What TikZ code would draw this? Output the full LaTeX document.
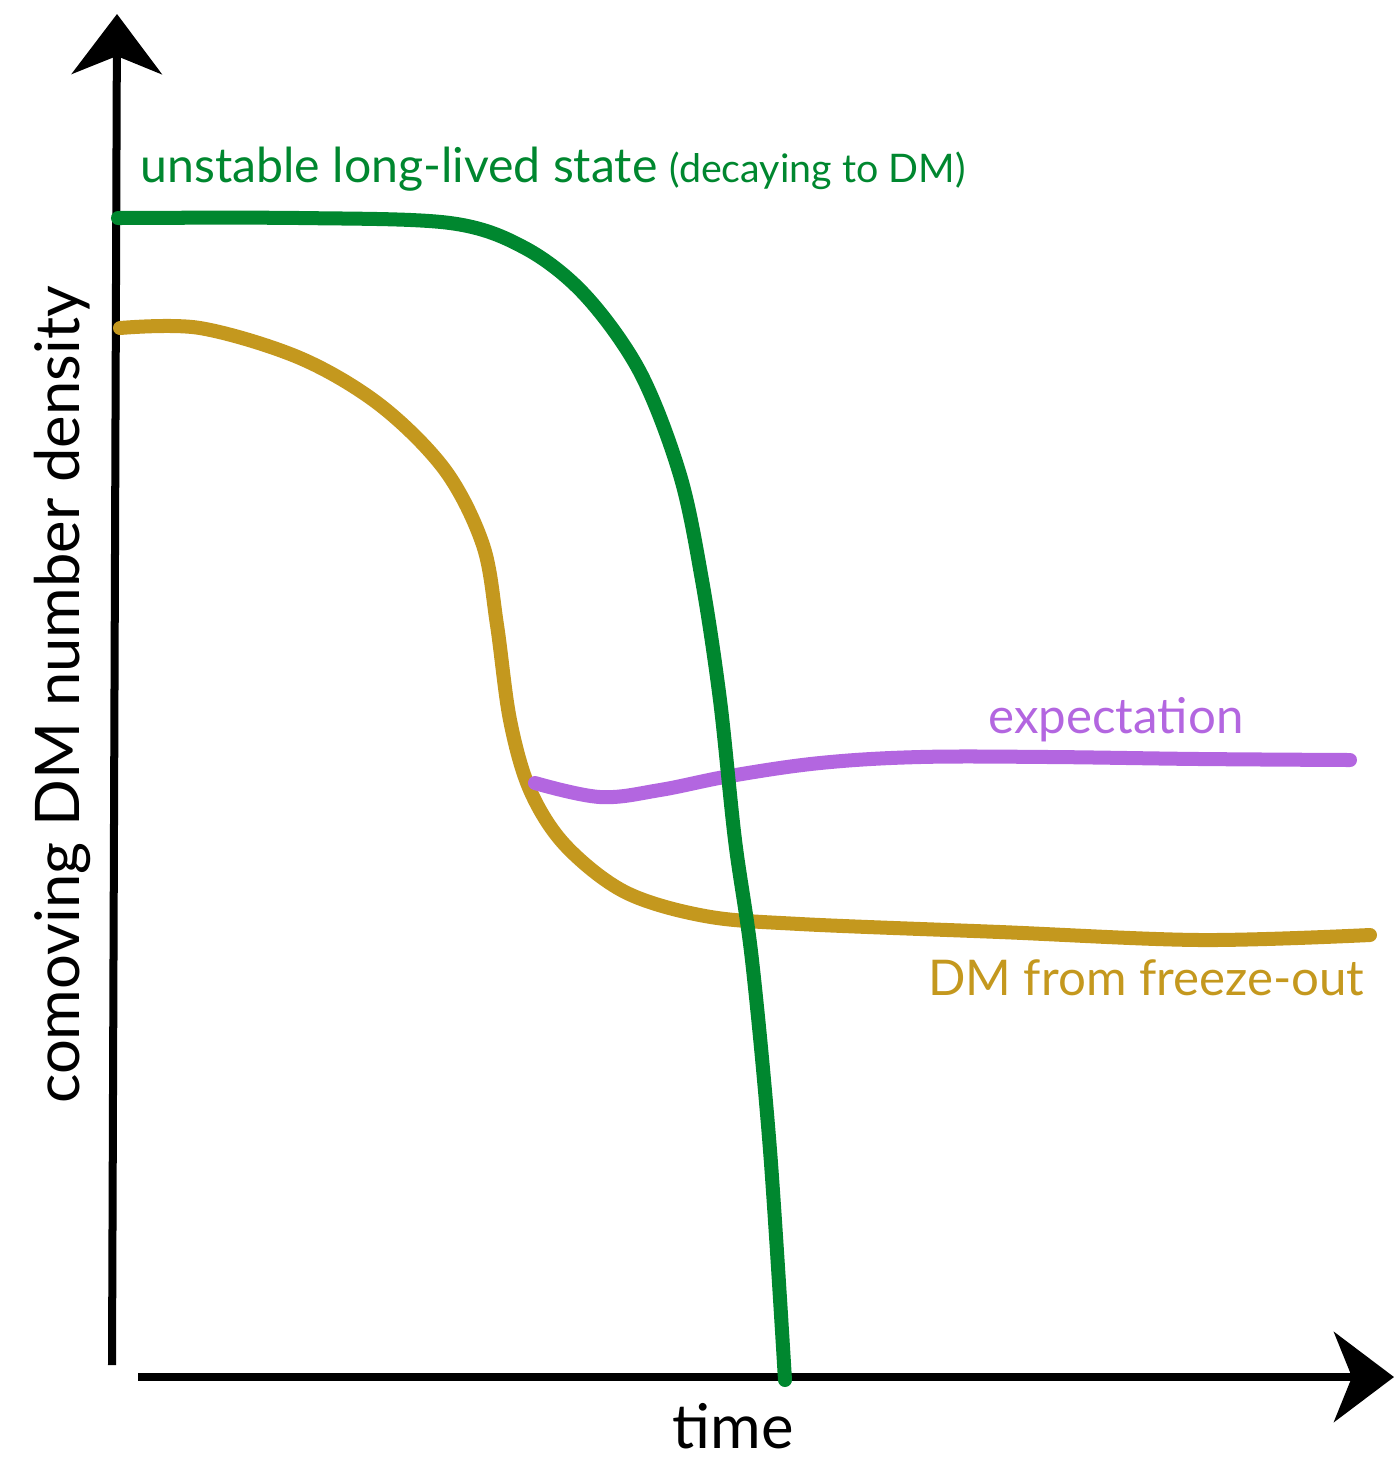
\documentclass[tikz,border=0pt]{standalone}
\usepackage{fontspec}
\setmainfont{Lato}
\usetikzlibrary{arrows.meta}
\definecolor{stategreen}{HTML}{00872F}
\definecolor{dmgold}{HTML}{C4981E}
\definecolor{expviolet}{HTML}{B366E0}
\tikzstyle{axis} = [line width=0.08cm, -{Stealth[length=0.6cm, width=0.9cm, inset=0.18cm]}]
\tikzstyle{curve} = [line width=0.14cm, line cap=round, line join=round]
\tikzstyle{label} = [inner sep=0pt, font=\fontsize{14}{17}\selectfont]

\begin{document}
\begin{tikzpicture}[x=0.01cm, y=-0.01cm]
        \useasboundingbox (0,0) rectangle (1396,1459);

        % axes
        \coordinate (origin) at (112,1365);
        \coordinate (ytop) at (117,14);
        \coordinate (xstart) at (138,1377);
        \coordinate (xend) at (1394,1377);
        \draw[axis] (origin) -- (ytop);
        \draw[axis] (xstart) -- (xend);

        % freeze-out
        \draw[curve, dmgold] plot[smooth, tension=0.55] coordinates {
            (120,328) (200,328) (300,358) (380,405) (445,470)
            (483,545) (497,625) (510,720) (530,790) (565,845)
            (625,892) (705,916) (800,924) (1000,932) (1200,940) (1370,935)};

        % expectation
        \draw[curve, expviolet] plot[smooth, tension=0.6] coordinates {
            (535,783) (600,797) (660,790) (730,776) (820,763)
            (920,757) (1050,757) (1200,759) (1350,760)};

        % long-lived state
        \draw[curve, stategreen] plot[smooth, tension=0.55] coordinates {
            (118,218) (300,218) (450,223) (525,248) (585,295)
            (640,372) (680,475) (702,580) (720,700) (735,840)
            (752,960) (770,1150) (785,1380)};

        \node[
            label,
            font=\fontsize{13.7}{16}\selectfont,
            anchor=base west,
            text=stategreen
        ](statelabel) at (140,182){unstable long-lived state {\fontsize{11.2}{14}\selectfont(decaying to DM)}};

        \node[
            label,
            anchor=base,
            text=expviolet
        ](explabel) at (1116,733){expectation};

        \node[
            label,
            anchor=base east,
            text=dmgold
        ](dmlabel) at (1365,995){DM from freeze-out};

        \node[
            label,
            font=\fontsize{17.5}{21}\selectfont,
            anchor=base
        ](xlabel) at (733,1448){time};

        \node[
            label,
            font=\fontsize{17.5}{21}\selectfont,
            rotate=90,
            anchor=base
        ](ylabel) at (80,695){comoving DM number density};
    \end{tikzpicture}
\end{document}
